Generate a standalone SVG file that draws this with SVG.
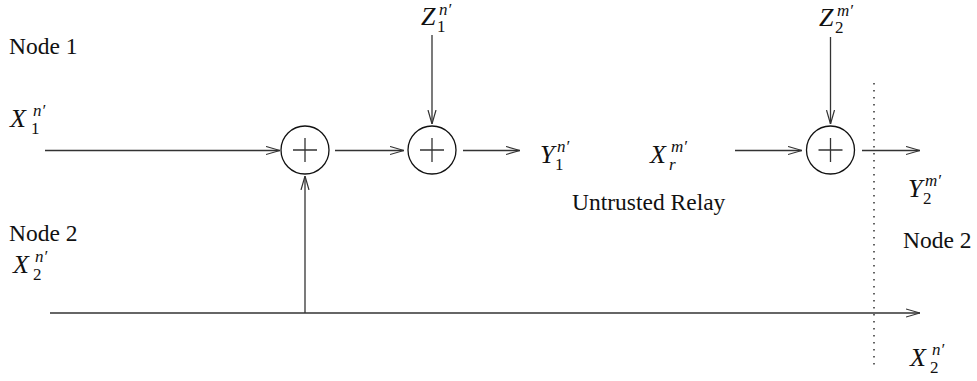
<svg xmlns="http://www.w3.org/2000/svg" width="977" height="381" viewBox="0 0 977 381">
<style>
.ln{stroke:#333;stroke-width:1.3;fill:none}
.cir{stroke:#111;stroke-width:1.3;fill:#fff}
.dot{stroke:#111;stroke-width:1.3;fill:none;stroke-dasharray:1.5 5.5}
.t{font-family:"Liberation Serif","Times New Roman",serif;font-size:23.5px;fill:#111}
.m{font-family:"Liberation Serif","Times New Roman",serif;font-size:26px;font-style:italic;fill:#111}
.s{font-family:"Liberation Serif","Times New Roman",serif;font-size:17px;fill:#111}
.si{font-family:"Liberation Serif","Times New Roman",serif;font-size:17px;font-style:italic;fill:#111}
</style>
<defs>
<marker id="ah" viewBox="0 0 14 10" refX="14" refY="5" markerWidth="14" markerHeight="10" markerUnits="userSpaceOnUse" orient="auto">
<path d="M0,1 L14,5 L0,9" fill="none" stroke="#333" stroke-width="1.2"/>
</marker>
</defs>
<g id="connectors">
<line class="ln" x1="45" y1="150.5" x2="280" y2="150.5" marker-end="url(#ah)"/>
<line class="ln" x1="335" y1="150.5" x2="404" y2="150.5" marker-end="url(#ah)"/>
<line class="ln" x1="463" y1="150.5" x2="520" y2="150.5" marker-end="url(#ah)"/>
<line class="ln" x1="735" y1="150.5" x2="802" y2="150.5" marker-end="url(#ah)"/>
<line class="ln" x1="862" y1="150.5" x2="920" y2="150.5" marker-end="url(#ah)"/>
<line class="ln" x1="432" y1="35" x2="432" y2="124" marker-end="url(#ah)"/>
<line class="ln" x1="830.5" y1="37" x2="830.5" y2="124" marker-end="url(#ah)"/>
<line class="ln" x1="305" y1="313" x2="305" y2="176" marker-end="url(#ah)"/>
<line class="ln" x1="50" y1="313" x2="920" y2="313" marker-end="url(#ah)"/>
<line class="dot" x1="874" y1="83" x2="874" y2="370"/>
</g>
<g id="adder1">
<circle class="cir" cx="305" cy="150" r="24"/>
<path class="ln" d="M293,150 H317 M305,138 V162"/>
</g>
<g id="adder2">
<circle class="cir" cx="432" cy="150" r="24"/>
<path class="ln" d="M420,150 H444 M432,138 V162"/>
</g>
<g id="adder3">
<circle class="cir" cx="830.5" cy="150" r="24"/>
<path class="ln" d="M818.5,150 H842.5 M830.5,138 V162"/>
</g>
<g id="labels">
<text class="t" x="9" y="241">Node 2</text>
<text class="t" x="9" y="54">Node 1</text>
<text class="t" x="903" y="248">Node 2</text>
<text class="t" x="572" y="210">Untrusted Relay</text>
<g id="X1n"><text class="m" x="10" y="127">X</text><text class="s" x="31" y="134">1</text><text class="si" x="33" y="116">n′</text></g>
<g id="Z1n"><text class="m" x="421" y="25">Z</text><text class="s" x="437" y="32">1</text><text class="si" x="439" y="15">n′</text></g>
<g id="Z2m"><text class="m" x="819" y="26">Z</text><text class="s" x="835" y="33">2</text><text class="si" x="837" y="16">m′</text></g>
<g id="Y1n"><text class="m" x="540" y="163">Y</text><text class="s" x="555" y="170">1</text><text class="si" x="557" y="152">n′</text></g>
<g id="Xrm"><text class="m" x="650" y="163">X</text><text class="si" x="669" y="170">r</text><text class="si" x="671" y="152">m′</text></g>
<g id="Y2m"><text class="m" x="908" y="197">Y</text><text class="s" x="923" y="204">2</text><text class="si" x="925" y="186">m′</text></g>
<g id="X2n"><text class="m" x="13" y="273">X</text><text class="s" x="33" y="280">2</text><text class="si" x="35" y="262">n′</text></g>
<g id="X2n_r"><text class="m" x="910" y="366">X</text><text class="s" x="930" y="373">2</text><text class="si" x="932" y="355">n′</text></g>
</g>
</svg>
